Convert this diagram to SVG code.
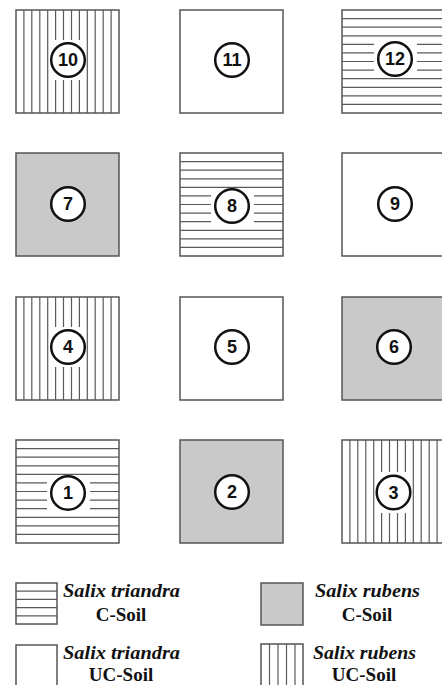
<svg xmlns="http://www.w3.org/2000/svg" width="442" height="685" viewBox="0 0 442 685">
<style>
.sq{stroke:#555;stroke-width:1.5}
.w{fill:#fff}
.g{fill:#c9c9c9}
.hl{stroke:#5a5a5a;stroke-width:1.2}
.gap{fill:#fff;stroke:none}
.c{fill:#fff;stroke:#111;stroke-width:2.5}
.n{font-family:"Liberation Sans",Arial,sans-serif;font-weight:bold;font-size:18px;fill:#111;text-anchor:middle}
.sp{font-family:"Liberation Serif","Times New Roman",serif;font-weight:bold;font-style:italic;font-size:18px;fill:#111}
.so{font-family:"Liberation Serif","Times New Roman",serif;font-weight:bold;font-size:19px;fill:#111;text-anchor:middle}
</style>
<defs>
<g id="vh" class="hl">
<line x1="7.9" y1="0" x2="7.9" y2="103"/><line x1="15.8" y1="0" x2="15.8" y2="103"/><line x1="23.8" y1="0" x2="23.8" y2="103"/><line x1="31.7" y1="0" x2="31.7" y2="103"/><line x1="39.6" y1="0" x2="39.6" y2="103"/><line x1="47.5" y1="0" x2="47.5" y2="103"/><line x1="55.5" y1="0" x2="55.5" y2="103"/><line x1="63.4" y1="0" x2="63.4" y2="103"/><line x1="71.3" y1="0" x2="71.3" y2="103"/><line x1="79.2" y1="0" x2="79.2" y2="103"/><line x1="87.2" y1="0" x2="87.2" y2="103"/><line x1="95.1" y1="0" x2="95.1" y2="103"/>
</g>
<g id="hh" class="hl">
<line x1="0" y1="8.6" x2="103" y2="8.6"/><line x1="0" y1="17.2" x2="103" y2="17.2"/><line x1="0" y1="25.8" x2="103" y2="25.8"/><line x1="0" y1="34.3" x2="103" y2="34.3"/><line x1="0" y1="42.9" x2="103" y2="42.9"/><line x1="0" y1="51.5" x2="103" y2="51.5"/><line x1="0" y1="60.1" x2="103" y2="60.1"/><line x1="0" y1="68.7" x2="103" y2="68.7"/><line x1="0" y1="77.3" x2="103" y2="77.3"/><line x1="0" y1="85.8" x2="103" y2="85.8"/><line x1="0" y1="94.4" x2="103" y2="94.4"/>
</g>
</defs>
<g id="connectors"/>
<!-- Row 1 -->
<g id="plot10">
<rect class="sq w" x="16" y="10" width="103" height="103"/>
<use href="#vh" x="16" y="10"/>
<rect class="gap" x="51" y="40" width="34" height="40"/>
<circle class="c" cx="68" cy="60" r="16.8"/>
<text class="n" x="68" y="66.3">10</text>
</g>
<g id="plot11">
<rect class="sq w" x="180" y="10" width="103" height="103"/>
<circle class="c" cx="232" cy="60" r="16.8"/>
<text class="n" x="232" y="66.3">11</text>
</g>
<g id="plot12">
<rect class="sq w" x="342" y="10" width="103" height="103"/>
<use href="#hh" x="342" y="10"/>
<rect class="gap" x="374" y="43" width="43" height="33"/>
<circle class="c" cx="395" cy="59" r="16.8"/>
<text class="n" x="395" y="65.3">12</text>
</g>
<!-- Row 2 -->
<g id="plot7">
<rect class="sq g" x="16" y="153" width="103" height="103"/>
<circle class="c" cx="68" cy="204" r="16.8"/>
<text class="n" x="68" y="210.3">7</text>
</g>
<g id="plot8">
<rect class="sq w" x="180" y="153" width="103" height="103"/>
<use href="#hh" x="180" y="153"/>
<rect class="gap" x="211" y="189" width="43" height="34"/>
<circle class="c" cx="232" cy="206" r="16.8"/>
<text class="n" x="232" y="212.3">8</text>
</g>
<g id="plot9">
<rect class="sq w" x="342" y="153" width="103" height="103"/>
<circle class="c" cx="395" cy="204" r="16.8"/>
<text class="n" x="395" y="210.3">9</text>
</g>
<!-- Row 3 -->
<g id="plot4">
<rect class="sq w" x="16" y="297" width="103" height="103"/>
<use href="#vh" x="16" y="297"/>
<rect class="gap" x="51" y="327" width="34" height="40"/>
<circle class="c" cx="68" cy="347" r="16.8"/>
<text class="n" x="68" y="353.3">4</text>
</g>
<g id="plot5">
<rect class="sq w" x="180" y="297" width="103" height="103"/>
<circle class="c" cx="232" cy="347" r="16.8"/>
<text class="n" x="232" y="353.3">5</text>
</g>
<g id="plot6">
<rect class="sq g" x="342" y="297" width="103" height="103"/>
<circle class="c" cx="394" cy="347" r="16.8"/>
<text class="n" x="394" y="353.3">6</text>
</g>
<!-- Row 4 -->
<g id="plot1">
<rect class="sq w" x="16" y="440" width="103" height="103"/>
<use href="#hh" x="16" y="440"/>
<rect class="gap" x="47" y="476" width="43" height="34"/>
<circle class="c" cx="68" cy="493" r="16.8"/>
<text class="n" x="68" y="499.3">1</text>
</g>
<g id="plot2">
<rect class="sq g" x="180" y="440" width="103" height="103"/>
<circle class="c" cx="232" cy="492" r="16.8"/>
<text class="n" x="232" y="498.3">2</text>
</g>
<g id="plot3">
<rect class="sq w" x="342" y="440" width="103" height="103"/>
<use href="#vh" x="342" y="440"/>
<rect class="gap" x="376" y="472" width="34" height="41"/>
<circle class="c" cx="393.5" cy="492.5" r="16.8"/>
<text class="n" x="393.5" y="498.8">3</text>
</g>
<!-- Legend -->
<g id="legend-triandra-c">
<rect class="sq w" x="16" y="583" width="41" height="41"/>
<g class="hl"><line x1="16" y1="591.2" x2="57" y2="591.2"/><line x1="16" y1="599.4" x2="57" y2="599.4"/><line x1="16" y1="607.6" x2="57" y2="607.6"/><line x1="16" y1="615.8" x2="57" y2="615.8"/></g>
<text class="sp" x="63" y="597" textLength="117" lengthAdjust="spacingAndGlyphs">Salix triandra</text>
<text class="so" x="121" y="621">C-Soil</text>
</g>
<g id="legend-rubens-c">
<rect class="sq g" x="261" y="583" width="42" height="42"/>
<text class="sp" x="315" y="597" textLength="105" lengthAdjust="spacingAndGlyphs">Salix rubens</text>
<text class="so" x="367" y="621">C-Soil</text>
</g>
<g id="legend-triandra-uc">
<rect class="sq w" x="16" y="645" width="41" height="42"/>
<text class="sp" x="63" y="659" textLength="117" lengthAdjust="spacingAndGlyphs">Salix triandra</text>
<text class="so" x="121" y="681">UC-Soil</text>
</g>
<g id="legend-rubens-uc">
<rect class="sq w" x="261" y="644" width="42" height="43"/>
<g class="hl"><line x1="269.5" y1="644" x2="269.5" y2="687"/><line x1="278" y1="644" x2="278" y2="687"/><line x1="286.5" y1="644" x2="286.5" y2="687"/><line x1="295" y1="644" x2="295" y2="687"/></g>
<text class="sp" x="313" y="659" textLength="103" lengthAdjust="spacingAndGlyphs">Salix rubens</text>
<text class="so" x="364" y="681">UC-Soil</text>
</g>
</svg>
